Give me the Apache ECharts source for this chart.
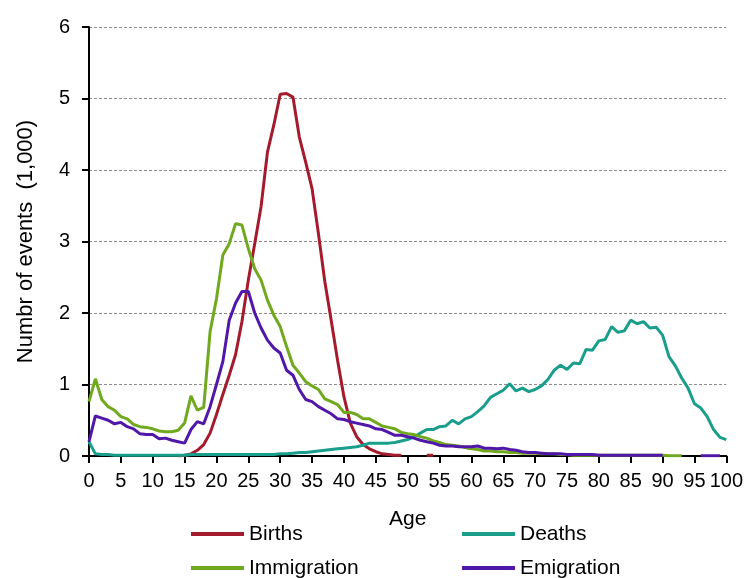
<!DOCTYPE html>
<html>
<head>
<meta charset="utf-8">
<script src="https://cdn.jsdelivr.net/npm/echarts@6/dist/echarts.min.js"></script>
<style>
  html, body { margin: 0; padding: 0; background: #fff; }
  #chart { width: 746px; height: 578px; }
</style>
</head>
<body>
<div id="chart"></div>
<script>
// Age in years, 0 to 100
const ages = [0,1,2,3,4,5,6,7,8,9,10,11,12,13,14,15,16,17,18,19,20,21,22,23,24,25,26,27,28,29,30,
  31,32,33,34,35,36,37,38,39,40,41,42,43,44,45,46,47,48,49,50,51,52,53,54,55,56,57,58,59,60,
  61,62,63,64,65,66,67,68,69,70,71,72,73,74,75,76,77,78,79,80,81,82,83,84,85,86,87,88,89,90,
  91,92,93,94,95,96,97,98,99,100];

// Number of events by age (thousands)
const births = [null,null,null,null,null,null,null,null,null,null,null,null,null,null,0,0.01,0.03,0.08,0.16,0.32,0.58,0.86,1.13,1.42,1.88,2.46,2.97,3.49,4.25,4.63,5.06,
  5.07,5.02,4.46,4.11,3.74,3.11,2.44,1.90,1.34,0.83,0.46,0.27,0.16,0.10,0.06,0.03,0.02,0.01,0.01,null,
  null,null,0.01,0.01,null,null,null,null,null,null,
  null,null,null,null,null,null,null,null,null,null,null,null,null,null,null,null,null,null,null,null,
  null,null,null,null,null,null,null,null,null,null,null,null,null,null,null,null,null,null,null,null];

const deaths = [0.20,0.03,0.02,0.02,0.01,0.01,0.01,0.01,0.01,0.01,0.01,0.01,0.01,0.01,0.01,0.01,0.02,0.02,0.02,0.02,0.02,
  0.02,0.02,0.02,0.02,0.02,0.02,0.02,0.02,0.02,0.03,0.03,0.04,0.05,0.05,0.06,0.07,0.08,0.09,0.10,0.11,
  0.12,0.13,0.15,0.18,0.18,0.18,0.18,0.19,0.21,0.23,0.27,0.32,0.37,0.37,0.41,0.42,0.50,0.45,0.52,0.55,
  0.62,0.70,0.82,0.87,0.92,1.01,0.91,0.95,0.90,0.93,0.98,1.07,1.20,1.27,1.21,1.30,1.29,1.49,1.48,1.61,
  1.63,1.81,1.73,1.75,1.90,1.85,1.88,1.79,1.80,1.69,1.39,1.26,1.09,0.95,0.73,0.67,0.55,0.37,0.26,0.23];

const immigration = [0.76,1.08,0.79,0.69,0.64,0.55,0.52,0.44,0.41,0.40,0.38,0.35,0.34,0.34,0.36,0.46,0.84,0.64,0.68,1.74,2.20,
  2.81,2.97,3.25,3.23,2.90,2.62,2.46,2.18,1.97,1.81,1.53,1.27,1.16,1.04,0.98,0.93,0.80,0.76,0.72,0.61,
  0.61,0.58,0.52,0.52,0.47,0.42,0.40,0.38,0.33,0.31,0.30,0.27,0.25,0.21,0.19,0.16,0.15,0.14,0.12,0.10,
  0.09,0.07,0.07,0.06,0.06,0.05,0.05,0.04,0.04,0.04,0.03,0.03,0.03,0.02,0.02,0.01,0.01,0.01,0.01,0.01,
  0.01,0.01,0.01,0.01,0.01,0.01,0.01,0.01,0.01,0.01,0.005,0.005,0.005,null,null,null,null,null,null,null];

const emigration = [0.20,0.56,0.53,0.50,0.45,0.47,0.41,0.38,0.31,0.30,0.30,0.24,0.25,0.22,0.20,0.18,0.37,0.48,0.45,0.69,1.00,
  1.32,1.90,2.14,2.30,2.30,2.00,1.79,1.62,1.51,1.44,1.20,1.13,0.93,0.79,0.76,0.69,0.64,0.59,0.52,0.51,
  0.48,0.46,0.44,0.42,0.38,0.37,0.33,0.29,0.29,0.27,0.25,0.22,0.20,0.18,0.15,0.14,0.14,0.13,0.13,0.13,
  0.14,0.11,0.11,0.10,0.11,0.09,0.08,0.06,0.05,0.05,0.04,0.03,0.03,0.03,0.02,0.02,0.02,0.02,0.02,0.01,
  0.01,0.01,0.01,0.01,0.01,0.01,0.01,0.01,0.01,0.01,null,null,null,null,null,0.005,0.005,0.005,0.005,null];

const seriesNames = ['Births', 'Deaths', 'Immigration', 'Emigration'];
const seriesColors = ['#A51B2E', '#1A9E8C', '#70A81E', '#5017A8'];
const seriesValues = [births, deaths, immigration, emigration];

const FONT = "'Liberation Sans', Arial, sans-serif";

const chart = echarts.init(document.getElementById('chart'), null, { renderer: 'canvas' });

const series = seriesNames.map((name, i) => ({
  name: name,
  type: 'line',
  data: ages.map((a, j) => [a, seriesValues[i][j]]),
  showSymbol: false,
  connectNulls: false,
  lineStyle: { width: 3, color: seriesColors[i] },
  itemStyle: { color: seriesColors[i] },
  z: 2 + i
}));

// One legend entry per block so the 2x2 layout stays fixed
const legendSlots = [
  { name: 'Births', left: 191, top: 523 },
  { name: 'Deaths', left: 462, top: 523 },
  { name: 'Immigration', left: 191, top: 557 },
  { name: 'Emigration', left: 462, top: 557 }
];

const legends = legendSlots.map(s => ({
  data: [s.name],
  left: s.left,
  top: s.top,
  padding: 0,
  icon: 'rect',
  itemWidth: 53,
  itemHeight: 4,
  textStyle: { fontFamily: FONT, fontSize: 21, color: '#000', lineHeight: 22 }
}));

chart.setOption({
  animation: false,
  backgroundColor: '#fff',
  textStyle: { fontFamily: FONT },
  grid: { left: 89, right: 17, top: 27, bottom: 122, containLabel: false },
  legend: legends,
  xAxis: {
    type: 'value',
    min: 0,
    max: 100,
    interval: 5,
    name: 'Age',
    nameLocation: 'middle',
    nameGap: 53,
    nameTextStyle: { fontFamily: FONT, fontSize: 21, color: '#000' },
    axisLine: { show: true, onZero: false, lineStyle: { color: '#000', width: 2 } },
    axisTick: { show: true, length: 7, lineStyle: { color: '#000', width: 2 } },
    axisLabel: { fontFamily: FONT, fontSize: 20, color: '#000', margin: 15 },
    splitLine: { show: false }
  },
  yAxis: {
    type: 'value',
    min: 0,
    max: 6,
    interval: 1,
    name: 'Numbr of events  (1,000)',
    nameLocation: 'middle',
    nameGap: 52,
    nameTextStyle: { fontFamily: FONT, fontSize: 22, color: '#000' },
    axisLine: { show: true, lineStyle: { color: '#000', width: 2 } },
    axisTick: { show: true, length: 7, lineStyle: { color: '#000', width: 2 } },
    axisLabel: { fontFamily: FONT, fontSize: 20, color: '#000', margin: 19 },
    splitLine: { show: true, lineStyle: { color: '#8c8c8c', width: 1, type: [3, 2] } }
  },
  series: series
});
</script>
</body>
</html>
